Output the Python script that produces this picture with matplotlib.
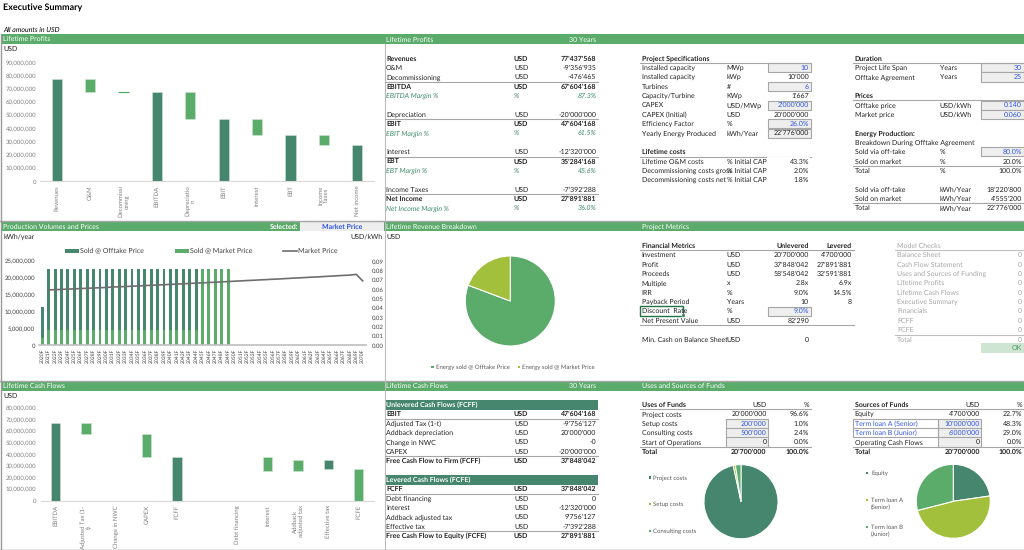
"""
Executive Summary dashboard
"""
import matplotlib.pyplot as plt
from matplotlib.patches import Rectangle
from matplotlib.lines import Line2D

plt.rcParams['font.family'] = ['Lato', 'DejaVu Sans']
plt.rcParams['text.hinting'] = 'no_hinting'
plt.rcParams['text.hinting_factor'] = 1

W, H = 1024, 550
DARK = '#46866E'
GREEN = '#5BAB6B'
LIME = '#A2C03C'
GREY = '#7F7F7F'
TXT = '#222222'
BLUE = '#2F55E8'
ITAL = '#3F8A6C'
LINE = '#A6A6A6'
BOX = '#EEEEEE'
FS = 5.0

# ---- lifetime profits chart
profit_cats = ['Revenues', 'O&M', 'Decommissi\noning', 'EBITDA', 'Depreciatio\nn',
               'EBIT', 'Interest', 'EBT', 'Income\nTaxes', 'Net income']
profit_base = [0, 68080633, 67604168, 0, 47604168, 0, 35284168, 0, 27891881, 0]
profit_height = [77437568, 9356935, 476465, 67604168, 20000000,
                 47604168, 12320000, 35284168, 7392288, 27891881]
profit_is_total = [True, False, False, True, False, True, False, True, False, True]

# ---- production chart
years = ['%dF' % y for y in range(2020, 2071)]
offtake_vol = [9110400] + [18220800] * 24 + [0] * 26
market_vol = [2277600] + [4555200] * 24 + [22776000] * 5 + [0] * 21
market_price = [None, 0.0593, 0.0596, 0.0599, 0.0602, 0.0605, 0.0608, 0.0611, 0.0614, 0.0617,
                0.0620, 0.0624, 0.0627, 0.0630, 0.0633, 0.0636, 0.0640, 0.0643, 0.0646, 0.0649,
                0.0653, 0.0656, 0.0659, 0.0663, 0.0666, 0.0669, 0.0673, 0.0676, 0.0680, 0.0683,
                0.0687, 0.0690, 0.0694, 0.0697, 0.0701, 0.0704, 0.0708, 0.0711, 0.0715, 0.0719,
                0.0722, 0.0726, 0.0730, 0.0733, 0.0737, 0.0741, 0.0745, 0.0749, 0.0752, 0.0760,
                0.0690]

# ---- cash flow chart
cash_cats = ['EBITDA', 'Adjusted Tax (1-\nt)', 'Change in NWC', 'CAPEX', 'FCFF', '',
             'Debt financing', 'Interest', 'Addback\nadjusted tax', 'Effective tax', 'FCFE']
cash_base = [0, 57848041, 37848042, 37848042, 0, 0, 37848042, 25528042, 25528042, 27891881, 0]
cash_height = [67604168, 9756127, 0, 20000000, 37848042, 0, 0, 12320000, 9756127, 7392288, 27891881]
cash_is_dark = [True, False, False, False, True, False, False, False, False, True, False]

# ---- pies
revenue_names = ['Energy sold @ Offtake Price', 'Energy sold @ Market Price']
revenue_vals = [62497344, 14940224]
uses_names = ['Project costs', 'Setup costs', 'Consulting costs']
uses_vals = [20000000, 200000, 500000]
sources_vals = [4700000, 10000000, 6000000]

# ---- tables
pl_labels = ['Revenues', 'O&M', 'Decommissioning', 'EBITDA', 'EBITDA Margin %', '', 'Depreciation',
             'EBIT', 'EBIT Margin %', '', 'Interest', 'EBT', 'EBT Margin %', '', 'Income Taxes',
             'Net Income', 'Net Income Margin %']
pl_units = ['USD', 'USD', 'USD', 'USD', '%', '', 'USD', 'USD', '%', '', 'USD', 'USD', '%', '',
            'USD', 'USD', '%']
pl_values = ["77'437'568", "-9'356'935", "-476'465", "67'604'168", '87.3%', '', "-20'000'000",
             "47'604'168", '61.5%', '', "-12'320'000", "35'284'168", '45.6%', '', "-7'392'288",
             "27'891'881", '36.0%']

spec_labels = ['Installed capacity', 'Installed capacity', 'Turbines', 'Capacity/Turbine', 'CAPEX',
               'CAPEX (Initial)', 'Efficiency Factor', 'Yearly Energy Produced']
spec_units = ['MWp', 'kWp', '#', 'KWp', 'USD/MWp', 'USD', '%', 'kWh/Year']
spec_values = ['10', "10'000", '6', "1'667", "2'000'000", "20'000'000", '26.0%', "22'776'000"]

cost_labels = ['Lifetime O&M costs', 'Decommissioning costs gross', 'Decommissioning costs net']
cost_units = ['% Initial CAPEX', '% Initial CAPEX', '% Initial CAPEX']
cost_values = ['43.3%', '2.0%', '1.8%']

dur_labels = ['Project Life Span', 'Offtake Agreement']
dur_units = ['Years', 'Years']
dur_values = ['30', '25']
price_labels = ['Offtake price', 'Market price']
price_units = ['USD/kWh', 'USD/kWh']
price_values = ['0.140', '0.060']
prod_labels = ['Sold via off-take', 'Sold on market', 'Total', '', 'Sold via off-take',
               'Sold on market', 'Total']
prod_units = ['%', '%', '%', '', 'kWh/Year', 'kWh/Year', 'kWh/Year']
prod_values = ['80.0%', '20.0%', '100.0%', '', "18'220'800", "4'555'200", "22'776'000"]

fm_labels = ['Investment', 'Profit', 'Proceeds', 'Multiple', 'IRR', 'Payback Period',
             'Discount  Rate', 'Net Present Value', '', 'Min. Cash on Balance Sheet']
fm_units = ['USD', 'USD', 'USD', 'x', '%', 'Years', '%', 'USD', '', 'USD']
fm_unlev = ["20'700'000", "37'848'042", "58'548'042", '2.8x', '9.0%', '10', '9.0%', "82'290", '', '0']
fm_lev = ["4'700'000", "27'891'881", "32'591'881", '6.9x', '14.5%', '8', '', '', '', '']

check_labels = ['Balance Sheet', 'Cash Flow Statement', 'Uses and Sources of Funding',
                'Lifetime Profits', 'Lifetime Cash Flows', 'Executive Summary', 'Financials',
                'FCFF', 'FCFE', 'Total']
check_values = ['0'] * 10

fcff_labels = ['EBIT', 'Adjusted Tax (1-t)', 'Addback depreciation', 'Change in NWC', 'CAPEX',
               'Free Cash Flow to Firm (FCFF)']
fcff_values = ["47'604'168", "-9'756'127", "20'000'000", '-0', "-20'000'000", "37'848'042"]
fcfe_labels = ['FCFF', 'Debt financing', 'Interest', 'Addback adjusted tax', 'Effective tax',
               'Free Cash Flow to Equity (FCFE)']
fcfe_values = ["37'848'042", '0', "-12'320'000", "9'756'127", "-7'392'288", "27'891'881"]

use_labels = ['Project costs', 'Setup costs', 'Consulting costs', 'Start of Operations', 'Total']
use_usd = ["20'000'000", "200'000", "500'000", '0', "20'700'000"]
use_pct = ['96.6%', '1.0%', '2.4%', '0.0%', '100.0%']
src_labels = ['Equity', 'Term loan A (Senior)', 'Term loan B (Junior)', 'Operating Cash Flows', 'Total']
src_usd = ["4'700'000", "10'000'000", "6'000'000", '0', "20'700'000"]
src_pct = ['22.7%', '48.3%', '29.0%', '0.0%', '100.0%']

fig = plt.figure(figsize=(W / 100, H / 100), dpi=100)
bg = fig.add_axes([0, 0, 1, 1])
bg.set_xlim(0, W)
bg.set_ylim(H, 0)
bg.axis('off')


def px_axes(x0, y0, x1, y1):
    ax = fig.add_axes([x0 / W, 1 - y1 / H, (x1 - x0) / W, (y1 - y0) / H])
    ax.patch.set_alpha(0)
    return ax


def txt(x, y, s, ha='left', bold=False, ital=False, color=TXT, size=FS, zorder=5):
    # baseline placement keeps rows level whatever the letters are
    bg.text(x, y + 2.2, s, ha=ha, va='baseline', color=color, fontsize=size, zorder=zorder,
            fontweight='bold' if bold else 'normal', fontstyle='italic' if ital else 'normal')


def hline(x0, x1, y, color=LINE, lw=0.8):
    bg.add_line(Line2D([x0, x1], [y, y], color=color, lw=lw))


def box(x0, y0, x1, y1, fill=BOX, edge=LINE, lw=0.8):
    bg.add_patch(Rectangle((x0, y0), x1 - x0, y1 - y0, facecolor=fill, edgecolor=edge, lw=lw))


def rows(y0):
    return lambda i: y0 + 9.36 * i


def waterfall(ax, base, height, dark):
    n = len(height)
    edges = ['#CFE5D3' if h > 1000000 else GREEN for h in height]
    widths = [0.4 if h > 1000000 else 0.9 if h > 0 else 0 for h in height]
    ax.bar(range(n), height, bottom=base, width=0.31,
           color=[DARK if d else GREEN for d in dark], edgecolor=edges, linewidth=widths)


def style_bar_axes(ax, n, ymax, step, cats):
    ax.set_xlim(-0.5, n - 0.5)
    ax.set_ylim(0, ymax)
    for s in ['top', 'left', 'right']:
        ax.spines[s].set_visible(False)
    ax.spines['bottom'].set_color('#D9D9D9')
    ax.set_yticks(range(0, ymax + 1, step))
    ax.yaxis.set_major_formatter(plt.FuncFormatter(lambda v, p: format(int(v), ',')))
    ax.set_xticks(range(n))
    ax.set_xticklabels(cats, rotation=90, linespacing=1.1)
    ax.tick_params(length=0, labelsize=4.2, labelcolor=GREY, pad=3)


# frames and section headers
for y in [221, 380.5]:
    hline(0, W, y, lw=1)
hline(0, W, 549.5, color='#8C8C8C', lw=1)
bg.add_line(Line2D([1, 1], [34, 550], color='#9A9A9A', lw=1))
bg.add_line(Line2D([384.5, 384.5], [44, 550], color='#BBBBBB', lw=0.8))
for y0, y1 in [(34, 44), (221.5, 231), (381, 391)]:
    bg.add_patch(Rectangle((1, y0), W - 1, y1 - y0, facecolor=GREEN, edgecolor='none'))

txt(3, 8.5, 'Executive Summary', bold=True, color='black', size=6.6)
txt(3, 30, 'All amounts in USD', ital=True, color='black')
for x, y, s in [(3, 39, 'Lifetime Profits'), (386, 39.5, 'Lifetime Profits'),
                (3, 226.5, 'Production Volumes and Prices'), (386, 226.5, 'Lifetime Revenue Breakdown'),
                (641.7, 226.5, 'Project Metrics'), (3, 386, 'Lifetime Cash Flows'),
                (386, 386, 'Lifetime Cash Flows'), (641.7, 386, 'Uses and Sources of Funds')]:
    txt(x, y, s, color='white')
txt(596.3, 39.5, '30 Years', ha='right', color='white')
txt(596.3, 386, '30 Years', ha='right', color='white')
txt(298, 226.5, 'Selected:', ha='right', color='white', bold=True)
bg.add_patch(Rectangle((300, 221.5), 84, 9.5, facecolor=BOX, edgecolor='none'))
txt(342, 226.5, 'Market Price', ha='center', bold=True, color=BLUE)
txt(3, 48.5, 'USD')
txt(3, 236.5, 'kWh/year')
txt(383, 236.5, 'USD/kWh', ha='right')
txt(386, 236.5, 'USD')
txt(3, 395.5, 'USD')

# lifetime profits waterfall
ax = px_axes(40.3, 62.7, 373.7, 181.3)
waterfall(ax, profit_base, profit_height, profit_is_total)
style_bar_axes(ax, 10, 90000000, 10000000, profit_cats)

# production volumes, stacked bars and price line
ax = px_axes(39.1, 261.3, 365.9, 345.3)
ax.bar(range(51), market_vol, width=0.45, color=GREEN, label='Sold @ Market Price')
ax.bar(range(51), offtake_vol, bottom=market_vol, width=0.45, color=DARK, label='Sold @ Offtake Price')
style_bar_axes(ax, 51, 25000000, 5000000, years)
ax.spines['bottom'].set_color('#BFBFBF')
ax.spines['bottom'].set_linewidth(1.2)
ax.tick_params(axis='x', labelsize=3.6, labelcolor='#404040', pad=2)
ax.tick_params(axis='y', labelsize=4.3, labelcolor='#404040')
ax2 = ax.twinx()
ax2.patch.set_alpha(0)
price_line, = ax2.plot(range(51), [p if p is not None else float('nan') for p in market_price],
                       color='#6E6E6E', lw=1.2, label='Market Price')
ax2.set_ylim(0, 0.09)
ax2.set_yticks([i / 100 for i in range(10)])
ax2.yaxis.set_major_formatter(plt.FormatStrFormatter('%.2f'))
ax2.tick_params(length=0, labelsize=4.4, labelcolor='#404040', pad=4)
for s in ['top', 'left', 'right', 'bottom']:
    ax2.spines[s].set_visible(False)
bars = ax.containers
leg = ax2.legend([bars[1], bars[0], price_line],
                 ['Sold @ Offtake Price', 'Sold @ Market Price', 'Market Price'],
                 ncol=3, loc='center', bbox_to_anchor=(201.5 / W, 1 - 251.3 / H),
                 bbox_transform=fig.transFigure, frameon=False, fontsize=4.8,
                 handlelength=2.1, handleheight=0.6, handletextpad=0.15, columnspacing=4.6,
                 labelcolor='#404040')

# revenue pie
ax = px_axes(510.3 - 45, 301 - 45, 510.3 + 45, 301 + 45)
ax.pie(revenue_vals, colors=[GREEN, LIME], startangle=90, counterclock=False,
       wedgeprops={'edgecolor': 'white', 'linewidth': 0.8})
ax.set_xlim(-1, 1)
ax.set_ylim(-1, 1)
txt(506.7, 317.7, format(revenue_vals[0], ','), ha='center', color='#404040', size=4.4)
txt(501.7, 281, format(revenue_vals[1], ','), ha='center', color='#404040', size=4.4)
for x, c, s in [(432.3, GREEN, revenue_names[0]), (519, LIME, revenue_names[1])]:
    bg.add_patch(Rectangle((x - 1.2, 365.8), 2.4, 2.4, facecolor=c, edgecolor='none'))
    txt(x + 3.2, 367, s, color='#595959', size=4.5)

# cash flow waterfall
ax = px_axes(40.5, 408.3, 373.8, 501)
waterfall(ax, cash_base, cash_height, cash_is_dark)
style_bar_axes(ax, 11, 80000000, 10000000, cash_cats)

# uses and sources pies
ax = px_axes(741 - 37, 501.7 - 37, 741 + 37, 501.7 + 37)
ax.pie(uses_vals, colors=[DARK, LIME, GREEN], startangle=90, counterclock=False,
       wedgeprops={'edgecolor': 'white', 'linewidth': 0.7})
ax.set_xlim(-1, 1)
ax.set_ylim(-1, 1)
txt(742.3, 520.7, '97%', ha='center', color='#333333', size=4.4)
txt(737.5, 484, '1%', ha='center', color='#333333', size=4.4)
txt(739.5, 484, '2%', ha='center', color='#333333', size=4.4)
for y, c, s in zip([477.3, 504, 531], [DARK, LIME, GREEN], uses_names):
    bg.add_patch(Rectangle((648.8, y - 1.2), 2.4, 2.4, facecolor=c, edgecolor='none'))
    txt(653, y, s, color='#595959', size=4.5)

ax = px_axes(953.3 - 37, 501.3 - 37, 953.3 + 37, 501.3 + 37)
ax.pie(sources_vals, colors=[DARK, LIME, GREEN], startangle=90, counterclock=False,
       wedgeprops={'edgecolor': 'white', 'linewidth': 0.8})
ax.set_xlim(-1, 1)
ax.set_ylim(-1, 1)
txt(965, 487.7, '23%', ha='center', color='#333333', size=4.4)
txt(957, 519.7, '48%', ha='center', color='#333333', size=4.4)
txt(938.3, 490, '29%', ha='center', color='#333333', size=4.4)
for y, c in zip([473, 500, 527], [DARK, LIME, GREEN]):
    bg.add_patch(Rectangle((865.8, y - 1.2), 2.4, 2.4, facecolor=c, edgecolor='none'))
txt(871, 473, 'Equity', color='#595959', size=4.5)
txt(871, 500, 'Term loan A', color='#595959', size=4.5)
txt(871, 507.3, '(Senior)', color='#595959', size=4.5)
txt(871, 527, 'Term loan B', color='#595959', size=4.5)
txt(871, 534.3, '(Junior)', color='#595959', size=4.5)

# lifetime profits table
r = rows(58.3)
for i, lab in enumerate(pl_labels):
    bold = lab in ('Revenues', 'EBITDA', 'EBIT', 'EBT', 'Net Income')
    ital = 'Margin' in lab
    col = ITAL if ital else TXT
    txt(386, r(i), lab, bold=bold, ital=ital, color=col)
    txt(514, r(i), pl_units[i], bold=bold, ital=ital, color=col)
    txt(596.3, r(i), pl_values[i], ha='right', bold=bold, ital=ital, color=col)
for i in [3, 7, 11, 15]:
    hline(385, 597.7, r(i) - 4.7)

# project specifications
txt(641.7, r(0), 'Project Specifications', bold=True)
hline(640, 811, r(0) + 4.7)
for i in [0, 2, 4, 6, 7]:
    box(767.7, r(i + 1) - 4.6, 810.7, r(i + 1) + 4.6)
for i, lab in enumerate(spec_labels):
    txt(641.7, r(i + 1), lab)
    txt(726.7, r(i + 1), spec_units[i])
    is_input = i in (0, 2, 4, 6)
    txt(809, r(i + 1), spec_values[i], ha='right', color=BLUE if is_input else TXT)
txt(641.7, r(10), 'Lifetime costs', bold=True)
hline(640, 811, r(10) + 4.7)
for i, lab in enumerate(cost_labels):
    txt(641.7, r(11 + i), lab)
    txt(726.7, r(11 + i), cost_units[i], zorder=2)
    # the unit text is cut by the next cell, as in the sheet
    bg.add_patch(Rectangle((767, r(11 + i) - 4.5), 43, 9, facecolor='white', edgecolor='none', zorder=3))
    txt(809, r(11 + i), cost_values[i], ha='right')

# duration, prices, energy production
txt(854.7, r(0), 'Duration', bold=True)
hline(853, 1024, r(0) + 4.7)
for i, lab in enumerate(dur_labels):
    box(981, r(i + 1) - 4.6, 1023.5, r(i + 1) + 4.6)
    txt(854.7, r(i + 1), lab)
    txt(939.7, r(i + 1), dur_units[i])
    txt(1022, r(i + 1), dur_values[i], ha='right', color=BLUE)
txt(854.7, r(4), 'Prices', bold=True)
hline(853, 1024, r(4) + 4.7)
for i, lab in enumerate(price_labels):
    box(981, r(i + 5) - 4.6, 1023.5, r(i + 5) + 4.6)
    txt(854.7, r(i + 5), lab)
    txt(939.7, r(i + 5), price_units[i])
    txt(1022, r(i + 5), price_values[i], ha='right', color=BLUE)
txt(854.7, r(8), 'Energy Production:', bold=True)
txt(854.7, r(9), 'Breakdown During Offtake Agreement')
box(981, r(10) - 4.6, 1023.5, r(10) + 4.6)
for i, lab in enumerate(prod_labels):
    txt(854.7, r(10 + i), lab)
    txt(939.7, r(10 + i), prod_units[i])
    txt(1022, r(10 + i), prod_values[i], ha='right', color=BLUE if i == 0 else TXT)
hline(853, 1024, r(12) - 4.7)
hline(853, 1024, r(16) - 4.7)

# financial metrics
r = rows(245.7)
txt(641.7, r(0), 'Financial Metrics', bold=True)
txt(809, r(0), 'Unlevered', ha='right', bold=True)
txt(852, r(0), 'Levered', ha='right', bold=True)
hline(640, 854, r(0) + 4.7)
hline(640, 854, 324.7)
box(767.7, r(7) - 4.6, 810.7, r(7) + 4.6)
for i, lab in enumerate(fm_labels):
    txt(641.7, r(i + 1), lab)
    txt(726.7, r(i + 1), fm_units[i])
    txt(809, r(i + 1), fm_unlev[i], ha='right', color=BLUE if i == 6 else TXT)
    txt(852, r(i + 1), fm_lev[i], ha='right')
bg.add_patch(Rectangle((639.7, 306), 43.6, 10, facecolor='none', edgecolor='#217346', lw=1))
bg.add_patch(Rectangle((681.8, 314), 3.2, 3.2, facecolor='#217346', edgecolor='white', lw=0.3))

# model checks
txt(897.3, r(0), 'Model Checks', color='#A6A6A6')
hline(895, 1024, r(0) + 4.7, color='#BFBFBF')
hline(895, 1024, r(10) - 4.7, color='#BFBFBF')
for i, lab in enumerate(check_labels):
    txt(897.3, r(i + 1), lab, color='#A6A6A6')
    txt(1022.3, r(i + 1), check_values[i], ha='right', color='#A6A6A6')
bg.add_patch(Rectangle((980.7, 343.3), 43.3, 9.4, facecolor='#CFE5D3', edgecolor='none'))
txt(1022.3, 348, 'OK', ha='right', color='#4E9A5F')

# cash flow tables
for y0, title, labs, vals in [(399.7, 'Unlevered Cash Flows (FCFF)', fcff_labels, fcff_values),
                              (474.7, 'Levered Cash Flows (FCFE)', fcfe_labels, fcfe_values)]:
    bg.add_patch(Rectangle((385, y0), 212.7, 10, facecolor=DARK, edgecolor='none'))
    txt(386, y0 + 5, title, color='white', bold=True)
    r = rows(y0 + 14.3)
    for i, lab in enumerate(labs):
        bold = i in (0, 5)
        txt(386, r(i), lab, bold=bold)
        txt(514, r(i), 'USD', bold=bold)
        txt(596.3, r(i), vals[i], ha='right', bold=bold)
    hline(385, 597.7, r(0) + 4.7)
    hline(385, 597.7, r(5) - 4.7)

# uses of funds
r = rows(404.7)
box(725.7, r(2) - 4.7, 768, r(4) + 4.7)
hline(725.7, 768, r(3) - 4.7)
hline(725.7, 768, r(4) - 4.7)
txt(641.7, r(0), 'Uses of Funds', bold=True)
txt(766.7, r(0), 'USD', ha='right')
txt(809, r(0), '%', ha='right')
hline(640, 811, r(0) + 4.7)
hline(640, 811, r(5) - 4.7)
for i, lab in enumerate(use_labels):
    bold = i == 4
    txt(641.7, r(i + 1), lab, bold=bold)
    txt(766.7, r(i + 1), use_usd[i], ha='right', bold=bold, color=BLUE if i in (1, 2) else TXT)
    txt(809, r(i + 1), use_pct[i], ha='right', bold=bold)

# sources of funds
box(938.3, r(2) - 4.7, 981, r(4) + 4.7)
hline(938.3, 981, r(3) - 4.7)
hline(938.3, 981, r(4) - 4.7)
bg.add_patch(Rectangle((853.3, r(2) - 4.7), 85, 18.7, facecolor='none', edgecolor=LINE, lw=0.8))
hline(853.3, 938.3, r(3) - 4.7)
txt(854.7, r(0), 'Sources of Funds', bold=True)
txt(980, r(0), 'USD', ha='right')
txt(1022.3, r(0), '%', ha='right')
hline(853, 1024, r(0) + 4.7)
hline(853, 1024, r(5) - 4.7)
for i, lab in enumerate(src_labels):
    bold = i == 4
    col = BLUE if i in (1, 2) else TXT
    txt(854.7, r(i + 1), lab, bold=bold, color=col)
    txt(980, r(i + 1), src_usd[i], ha='right', bold=bold, color=col)
    txt(1022.3, r(i + 1), src_pct[i], ha='right', bold=bold)

fig.savefig('out.png', dpi=100)
